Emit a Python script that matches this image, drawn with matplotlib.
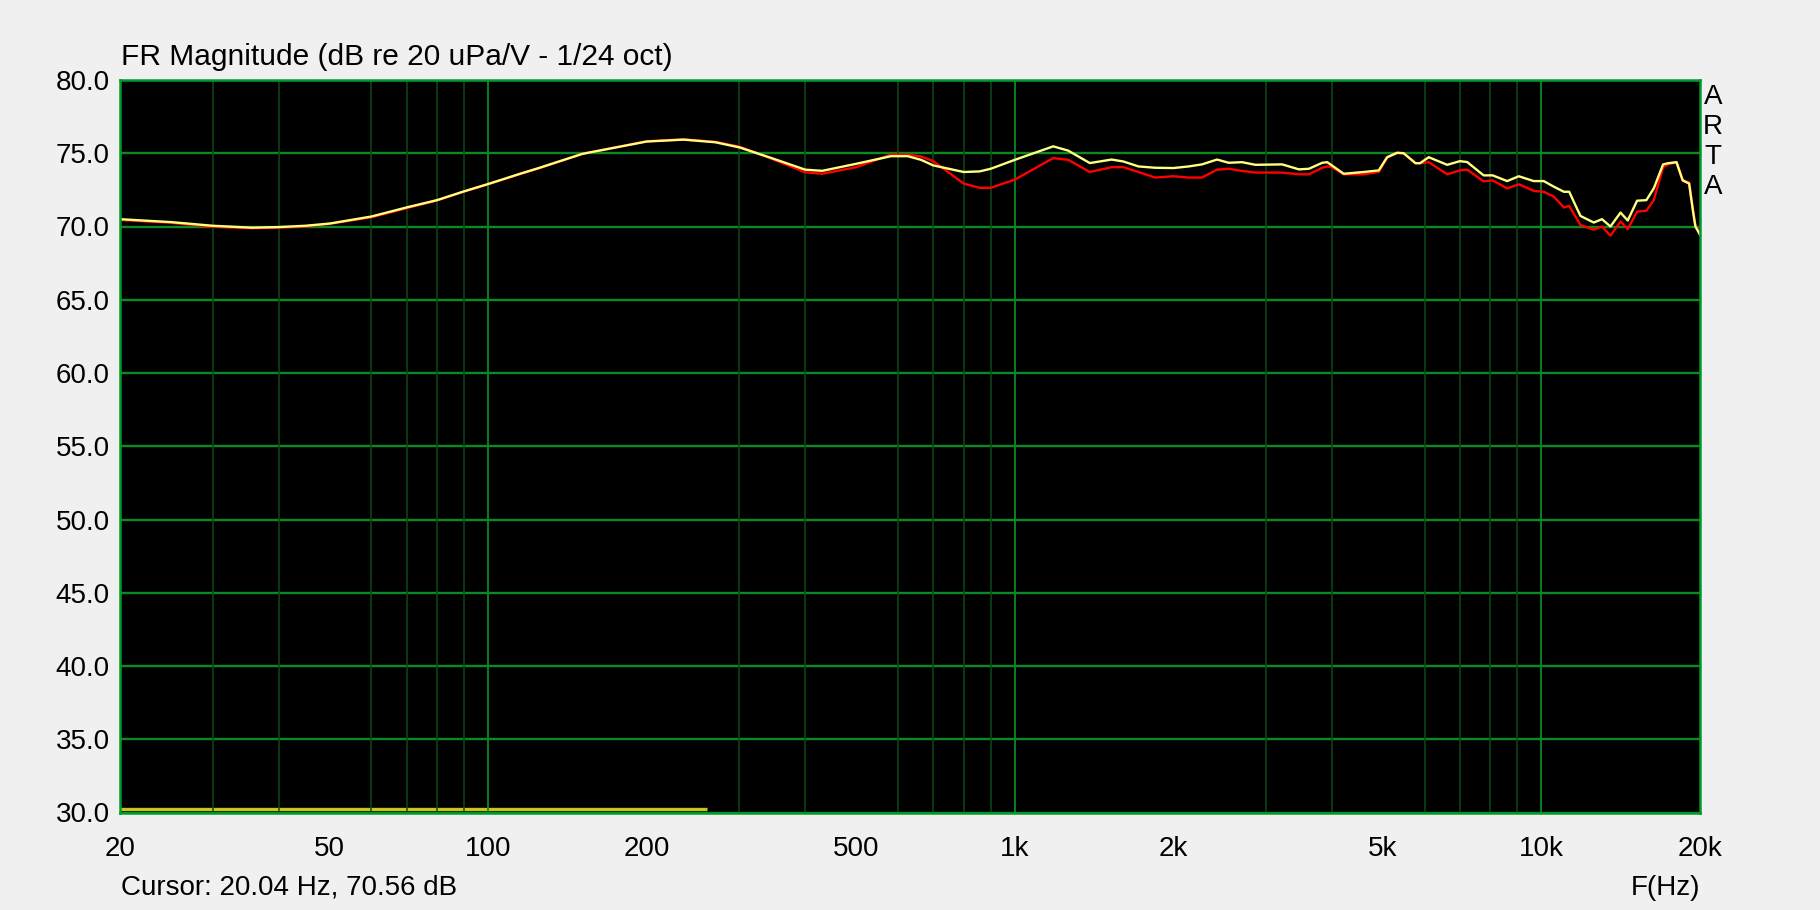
import matplotlib
matplotlib.use("Agg")
import matplotlib.pyplot as plt
from matplotlib.ticker import FixedLocator, NullFormatter

# ---- data ----
freq_hz = [20, 25, 30, 35.6, 40, 45, 50, 60, 70, 80, 90, 100, 115, 125, 151, 200, 235, 270, 300,
           344, 400, 431, 500, 582, 626, 664, 700, 800, 857, 900, 1000, 1183, 1263, 1388, 1527,
           1607, 1717, 1847, 2000, 2139, 2267, 2421, 2548, 2702, 2864, 3219, 3462, 3618, 3836,
           3920, 4000, 4212, 4597, 4910, 5093, 5320, 5476, 5765, 5880, 6110, 6622, 7000, 7227,
           7767, 8080, 8606, 9058, 9668, 10100, 10554, 11030, 11290, 11550, 11860, 12570, 13030,
           13520, 14130, 14580, 15190, 15820, 16340, 17020, 17400, 18050, 18540, 19070, 19390,
           19600, 20000]

yellow_db = [70.50, 70.30, 70.05, 69.92, 69.96, 70.05, 70.20, 70.68, 71.30, 71.80, 72.40, 72.90,
             73.60, 74.00, 74.96, 75.80, 75.93, 75.75, 75.40, 74.69, 73.88, 73.80, 74.28, 74.80,
             74.80, 74.55, 74.17, 73.72, 73.76, 73.94, 74.55, 75.47, 75.18, 74.33, 74.57, 74.44,
             74.10, 74.01, 73.99, 74.10, 74.24, 74.57, 74.35, 74.39, 74.21, 74.24, 73.90, 73.94,
             74.35, 74.39, 74.17, 73.60, 73.72, 73.83, 74.73, 75.03, 75.00, 74.32, 74.32, 74.73,
             74.21, 74.46, 74.40, 73.49, 73.49, 73.10, 73.43, 73.10, 73.10, 72.72, 72.37, 72.37,
             71.60, 70.72, 70.27, 70.50, 70.00, 70.95, 70.41, 71.76, 71.80, 72.60, 74.24, 74.32,
             74.39, 73.15, 72.93, 71.08, 70.00, 69.44]

red_db = [70.45, 70.25, 69.98, 69.88, 69.92, 70.00, 70.18, 70.63, 71.25, 71.78, 72.38, 72.88,
          73.58, 73.98, 74.95, 75.82, 75.95, 75.78, 75.45, 74.65, 73.70, 73.60, 74.05, 74.91,
          74.90, 74.78, 74.46, 72.93, 72.64, 72.64, 73.20, 74.67, 74.55, 73.72, 74.05, 74.05,
          73.72, 73.34, 73.43, 73.34, 73.34, 73.88, 73.94, 73.79, 73.68, 73.68, 73.56, 73.56,
          74.01, 74.10, 74.05, 73.56, 73.56, 73.72, 74.70, 75.03, 75.00, 74.32, 74.32, 74.39,
          73.56, 73.83, 73.88, 73.08, 73.15, 72.60, 72.88, 72.43, 72.37, 72.04, 71.30, 71.40,
          70.80, 70.10, 69.78, 70.00, 69.37, 70.34, 69.82, 71.01, 71.08, 71.80, 74.05, 74.24,
          74.39, 73.15, 73.00, 71.20, 70.10, 69.50]

# status bar at the bottom of the plot (frequency span)
bar_freq = [20, 260]
bar_level = [30.25, 30.25]

x_tick_values = [20, 50, 100, 200, 500, 1000, 2000, 5000, 10000, 20000]
x_tick_labels = ["20", "50", "100", "200", "500", "1k", "2k", "5k", "10k", "20k"]
y_tick_values = [30, 35, 40, 45, 50, 55, 60, 65, 70, 75, 80]
y_tick_labels = ["%.1f" % v for v in y_tick_values]
grid_major_freq = [100, 1000, 10000]
grid_minor_freq = [30, 40, 50, 60, 70, 80, 90,
                   200, 300, 400, 500, 600, 700, 800, 900,
                   2000, 3000, 4000, 5000, 6000, 7000, 8000, 9000]

title_text = "FR Magnitude (dB re 20 uPa/V - 1/24 oct)"
cursor_text = "Cursor: 20.04 Hz, 70.56 dB"
xlabel_text = "F(Hz)"
side_text = ["A", "R", "T", "A"]

# ---- style ----
plt.rcParams['font.family'] = ['Liberation Sans', 'DejaVu Sans']
FS = 20
FS_TITLE = 21.5
BG = "#F0F0F0"
BORDER = "#009A2A"
GRID_MAJ = "#0B8A22"
GRID_MIN = "#0A4A16"

fig = plt.figure(figsize=(18.2, 9.1), dpi=100, facecolor=BG)
ax = fig.add_axes([120 / 1820, 1 - 812.5 / 910, 1580 / 1820, 732.5 / 910])
ax.set_facecolor("black")
ax.set_xscale("log")
ax.set_xlim(20, 20000)
ax.set_ylim(30, 80)

# status bar
ax.plot(bar_freq, bar_level, color="#C8C814", lw=2.4, solid_capstyle="butt", zorder=1)

# grid
ax.xaxis.set_minor_locator(FixedLocator(grid_minor_freq))
ax.xaxis.set_minor_formatter(NullFormatter())
ax.grid(which="minor", axis="x", color=GRID_MIN, lw=1.1, zorder=2)
for f in grid_major_freq:
    ax.axvline(f, color=GRID_MAJ, lw=1.3, zorder=2)
for v in y_tick_values:
    ax.axhline(v, color=GRID_MAJ, lw=1.7, zorder=2)
ax.set_axisbelow(False)

# curves
ax.plot(freq_hz, red_db, color="#FF0000", lw=1.7, zorder=4)
ax.plot(freq_hz, yellow_db, color="#FFFF80", lw=1.7, zorder=5)

# ticks
ax.set_xticks(x_tick_values)
ax.set_xticklabels(x_tick_labels)
ax.set_yticks(y_tick_values)
ax.set_yticklabels(y_tick_labels)
ax.tick_params(axis="both", which="both", length=0, labelsize=FS, colors="black")
ax.tick_params(axis="x", pad=17)
ax.tick_params(axis="y", pad=7.5)

for s in ax.spines.values():
    s.set_color(BORDER)
    s.set_linewidth(1.8)
    s.set_zorder(6)

# texts
fig.text(121 / 1820, 1 - 57 / 910, title_text, fontsize=FS_TITLE, ha="left", va="center")
fig.text(121 / 1820, 1 - 888 / 910, cursor_text, fontsize=FS, ha="left", va="center")
fig.text(1700 / 1820, 1 - 888 / 910, xlabel_text, fontsize=FS, ha="right", va="center")
for i, ch in enumerate(side_text):
    fig.text(1713 / 1820, 1 - (97 + 30 * i) / 910, ch, fontsize=FS, ha="center", va="center")

fig.savefig("out.png", dpi=100, facecolor=BG)
